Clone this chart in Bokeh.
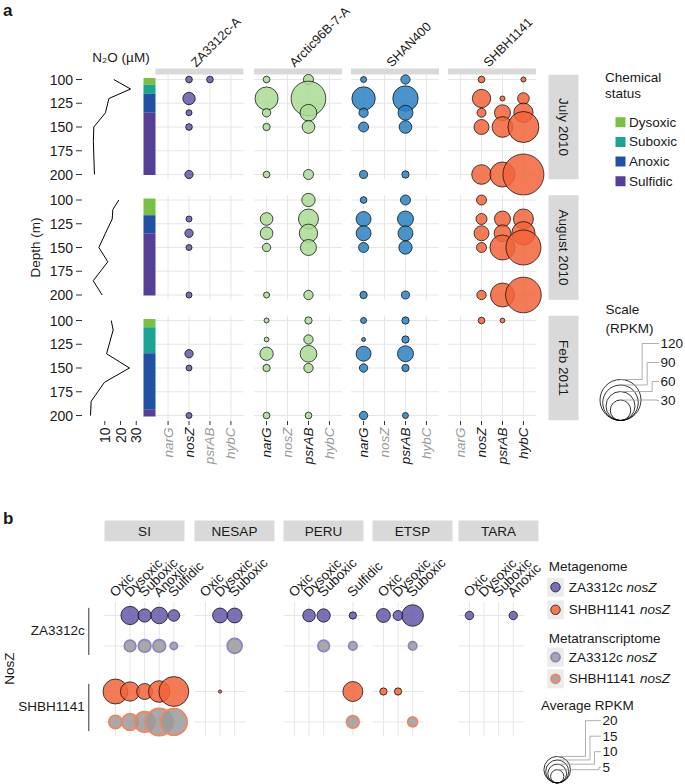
import math
from bokeh.plotting import figure
from bokeh.models import Range1d
from bokeh.core.properties import value
from bokeh.embed import file_html
from bokeh.resources import INLINE

# ======================= DATA =======================
# ---- panel a ----
GENOMES = ["ZA3312c-A", "Arctic96B-7-A", "SHAN400", "SHBH1141"]
GENES = ["narG", "nosZ", "psrAB", "hybC"]
GENES_PRESENT = [["nosZ"], ["narG", "psrAB"], ["narG", "psrAB"], ["nosZ", "psrAB", "hybC"]]
MONTHS = ["July 2010", "August 2010", "Feb 2011"]
DEPTH_TICKS = [100, 125, 150, 175, 200]
N2O_TICKS = [10, 20, 30]

N2O_DEPTH_JUL = [100, 110, 120, 135, 150, 165, 200]
N2O_JUL = [15.7, 26.4, 12.6, 10.4, 3.0, 2.7, 3.4]
N2O_DEPTH_AUG = [100, 110, 120, 135, 150, 165, 185, 200]
N2O_AUG = [18.9, 15.1, 14.7, 10.4, 6.2, 11.9, 2.6, 8.3]
N2O_DEPTH_FEB = [100, 110, 135, 150, 165, 185, 200]
N2O_FEB = [14.1, 15.3, 11.1, 25.7, 9.8, 1.3, 0.9]

STATUS = ["Dysoxic", "Suboxic", "Anoxic", "Sulfidic"]
BAND_MONTH = ["July 2010"] * 4 + ["August 2010"] * 3 + ["Feb 2011"] * 4
BAND_STATUS = ["Dysoxic", "Suboxic", "Anoxic", "Sulfidic",
               "Dysoxic", "Anoxic", "Sulfidic",
               "Dysoxic", "Suboxic", "Anoxic", "Sulfidic"]
BAND_TOP = [98.5, 105.5, 115, 135, 98.5, 116, 135, 98.5, 107, 134.5, 194]
BAND_BOTTOM = [105.5, 115, 135, 200.5, 116, 135, 200.5, 107, 134.5, 194, 201]

A_MONTH = (["July 2010"] * 40 + ["August 2010"] * 36 + ["Feb 2011"] * 25)
A_GENOME = (["ZA3312c-A"] * 6 + ["Arctic96B-7-A"] * 10 + ["SHAN400"] * 10 + ["SHBH1141"] * 14
            + ["ZA3312c-A"] * 4 + ["Arctic96B-7-A"] * 9 + ["SHAN400"] * 10 + ["SHBH1141"] * 13
            + ["ZA3312c-A"] * 3 + ["Arctic96B-7-A"] * 10 + ["SHAN400"] * 10 + ["SHBH1141"] * 2)
A_GENE = (["nosZ", "psrAB", "nosZ", "nosZ", "nosZ", "nosZ"]
          + ["narG"] * 5 + ["psrAB"] * 5
          + ["narG"] * 5 + ["psrAB"] * 5
          + ["nosZ"] * 5 + ["psrAB"] * 4 + ["hybC"] * 5
          + ["nosZ"] * 4
          + ["narG"] * 4 + ["psrAB"] * 5
          + ["narG"] * 5 + ["psrAB"] * 5
          + ["nosZ"] * 5 + ["psrAB"] * 4 + ["hybC"] * 4
          + ["nosZ"] * 3
          + ["narG"] * 5 + ["psrAB"] * 5
          + ["narG"] * 5 + ["psrAB"] * 5
          + ["nosZ", "psrAB"])
A_DEPTH = ([100, 100, 120, 135, 150, 200]
           + [100, 120, 135, 150, 200] * 2
           + [100, 120, 135, 150, 200] * 2
           + [100, 120, 135, 150, 200] + [120, 135, 150, 200] + [100, 120, 135, 150, 200]
           + [120, 135, 150, 200]
           + [120, 135, 150, 200] + [100, 120, 135, 150, 200]
           + [100, 120, 135, 150, 200] * 2
           + [100, 120, 135, 150, 200] + [120, 135, 150, 200] + [120, 135, 150, 200]
           + [135, 150, 200]
           + [100, 120, 135, 150, 200] * 2
           + [100, 120, 135, 150, 200] * 2
           + [100, 100])
A_RPKM = ([3.2, 3.2, 11, 2.6, 3.2, 5]
          + [3.2, 38, 5, 3.8, 3.2, 7.2, 86, 20, 11.5, 7.2]
          + [2.6, 39, 6.2, 7.2, 4.6, 6.2, 46, 16, 11.5, 3.8]
          + [3.2, 24, 5.8, 16, 27.6, 1.8, 18.3, 30.6, 44.7, 1.8, 9.7, 26.7, 68.7, 120]
          + [2.6, 5, 2.6, 2.6]
          + [11.5, 11.5, 5, 2.6, 12.7, 28.6, 24, 18.3, 6.2]
          + [3.2, 16, 16, 7.2, 3.8, 7.2, 18.3, 16, 12.7, 4.6]
          + [7.2, 8.7, 16, 7.2, 6.2, 18.3, 20, 44.7, 41, 28.6, 38.9, 87.6, 91]
          + [5, 2.6, 2.6]
          + [1.8, 1.6, 12.7, 3.8, 3.2, 3.8, 6.2, 20, 6.2, 3.2]
          + [2.6, 1.1, 16, 5, 5, 3.8, 3.8, 18.3, 3.8, 2.6]
          + [3.2, 1.6])
SCALE_A = [30, 60, 90, 120]

# ---- panel b ----
B_SITES = ["SI", "NESAP", "PERU", "ETSP", "TARA"]
B_STATUS = ["Oxic", "Dysoxic", "Suboxic", "Anoxic", "Sulfidic"]
B_SITE_STATUS = [["Oxic", "Dysoxic", "Suboxic", "Anoxic", "Sulfidic"],
                 ["Oxic", "Dysoxic", "Suboxic"],
                 ["Oxic", "Dysoxic", "Suboxic", "Sulfidic"],
                 ["Oxic", "Dysoxic", "Suboxic"],
                 ["Oxic", "Dysoxic", "Suboxic", "Anoxic"]]
B_GENOMES = ["ZA3312c", "SHBH1141"]
B_TYPES = ["Metagenome", "Metatranscriptome"]
B_SITE = (["SI"] * 18 + ["NESAP"] * 4 + ["PERU"] * 7 + ["ETSP"] * 7 + ["TARA"] * 2)
B_GENOME = (["ZA3312c"] * 8 + ["SHBH1141"] * 10
            + ["ZA3312c"] * 3 + ["SHBH1141"]
            + ["ZA3312c"] * 5 + ["SHBH1141"] * 2
            + ["ZA3312c"] * 4 + ["SHBH1141"] * 3
            + ["ZA3312c"] * 2)
B_TYPE = (["Metagenome"] * 4 + ["Metatranscriptome"] * 4 + ["Metagenome"] * 5 + ["Metatranscriptome"] * 5
          + ["Metagenome"] * 2 + ["Metatranscriptome"] + ["Metagenome"]
          + ["Metagenome"] * 3 + ["Metatranscriptome"] * 2 + ["Metagenome", "Metatranscriptome"]
          + ["Metagenome"] * 3 + ["Metatranscriptome"] + ["Metagenome"] * 2 + ["Metatranscriptome"]
          + ["Metagenome"] * 2)
B_STAT = (["Dysoxic", "Suboxic", "Anoxic", "Sulfidic"] * 2
          + ["Oxic", "Dysoxic", "Suboxic", "Anoxic", "Sulfidic"] * 2
          + ["Dysoxic", "Suboxic", "Suboxic", "Dysoxic"]
          + ["Dysoxic", "Suboxic", "Sulfidic", "Suboxic", "Sulfidic", "Sulfidic", "Sulfidic"]
          + ["Oxic", "Dysoxic", "Suboxic", "Suboxic", "Oxic", "Dysoxic", "Suboxic"]
          + ["Oxic", "Anoxic"])
B_RPKM = ([9.5, 5, 7.8, 3.8, 3.8, 4.5, 4.5, 1.5]
          + [17.6, 10.5, 7.2, 13.2, 25.3, 5, 7.8, 12, 21, 20]
          + [6.3, 6.3, 6.3, 0.3]
          + [4.5, 5, 1.5, 3.8, 2, 11.3, 4.5]
          + [5.5, 2.8, 13.2, 2, 1.5, 1.5, 2.8]
          + [2, 2])
SCALE_B = [5, 10, 15, 20]

# ======================= STYLE / LAYOUT =======================
W, H = 685, 784
OX, OY = 0, 0
FONT = "Liberation Sans"
TXT = "#1a1a1a"
STRIP = "#d9d9d9"
GRID = "#e6e6e6"
GENOME_COLORS = ["#6557a9", "#aada95", "#2a81c2", "#f2643b"]
STATUS_COLORS = ["#7ac143", "#1ba394", "#2151a5", "#553f97"]
B_FILL = ["#6557a9", "#f2643b"]
B_EDGE = ["#8c83c2", "#f4845f"]
RMAX_A = 20.5
RMAX_B = 13.3

ROW_TOP = [74.25, 194.75, 315.25]
ROW_H = 104.5
DEPTH_LIM = (95, 205)
FACET_LEFT = [155, 253.5, 350.5, 447.5]
FACET_W = 88
GENE_LIM = (-0.6, 3.6)
N2O_LIM = (-1.5, 31.5)
N2O_PX = (86.25, 138.1)
BAR_X = (143, 155)
RSTRIP_X = (548, 578)

B_STRIP_LEFT = [104, 194, 283, 372, 458]
B_STRIP_W = 80
B_UNIT = 14.6
B_PAD = 0.75
B_Y_LIM = (-0.45, 3.95)
B_Y_PX = (601.3, 735.1)

xr, yr = {}, {}


def xmap(name, d0, d1, p0, p1):
    k = (d1 - d0) / (p1 - p0)
    xr[name] = Range1d(start=d0 + (OX - p0) * k, end=d0 + (OX + W - p0) * k)


def ymap(name, d0, d1, p0, p1):
    k = (d1 - d0) / (p1 - p0)
    yr[name] = Range1d(start=d0 + (OY + H - p0) * k, end=d0 + (OY - p0) * k)


xmap("n2o", N2O_LIM[0], N2O_LIM[1], *N2O_PX)
for f in range(len(GENOMES)):
    xmap(f"ga{f}", GENE_LIM[0], GENE_LIM[1], FACET_LEFT[f], FACET_LEFT[f] + FACET_W)
for r in range(len(MONTHS)):
    ymap(f"ra{r}", DEPTH_LIM[0], DEPTH_LIM[1], ROW_TOP[r], ROW_TOP[r] + ROW_H)

site_idx = []
for i, site in enumerate(B_SITES):
    ids = [B_STATUS.index(s) for s in B_SITE_STATUS[i]]
    site_idx.append(ids)
    mx = max(ids)
    xmap(f"sb{i}", -B_PAD, mx + B_PAD, B_STRIP_LEFT[i], B_STRIP_LEFT[i] + (mx + 2 * B_PAD) * B_UNIT)
ymap("by", B_Y_LIM[0], B_Y_LIM[1], *B_Y_PX)

p = figure(width=W, height=H, output_backend="svg", toolbar_location=None,
           x_range=Range1d(OX, OX + W), y_range=Range1d(OY + H, OY),
           x_axis_type=None, y_axis_type=None, min_border=0,
           extra_x_ranges=xr, extra_y_ranges=yr)
p.outline_line_color = None
p.background_fill_color = "white"
p.border_fill_color = "white"


def txt(x, y, t, size="13px", **kw):
    kw.setdefault("text_color", TXT)
    kw.setdefault("text_align", "left")
    kw.setdefault("text_baseline", "middle")
    return p.text(x=x, y=y, text=t, text_font=value(FONT), text_font_size=size, **kw)


AW = {'Z': .611, 'A': .667, '3': .556, '1': .556, '2': .556, 'c': .5, 'S': .667, 'H': .722,
      'B': .667, '4': .556, ' ': .278}


def twidth(s, px):
    return sum(AW.get(ch, .556) for ch in s) * px


# ======================= PANEL A =======================
txt([2.5], [10], ["a"], size="17px", text_font_style="bold")
txt([120.5], [57], ["N\u2082O (\u00b5M)"], size="13.5px", text_align="center")
txt([35], [247], ["Depth (m)"], size="13.5px", angle=math.pi / 2, text_align="center")

# genome headers and top strips
p.quad(left=FACET_LEFT, right=[l + FACET_W for l in FACET_LEFT], top=[68] * 4, bottom=[74] * 4,
       fill_color=STRIP, line_color=None)
txt([l + FACET_W / 2 - 6.5 for l in FACET_LEFT], [64] * 4, GENOMES, size="12.8px",
    angle=math.pi / 4, text_baseline="alphabetic")

n2o_data = [(N2O_DEPTH_JUL, N2O_JUL), (N2O_DEPTH_AUG, N2O_AUG), (N2O_DEPTH_FEB, N2O_FEB)]

for r, month in enumerate(MONTHS):
    yn = f"ra{r}"
    # grid in facets
    for f in range(len(GENOMES)):
        xn = f"ga{f}"
        p.segment(x0=[GENE_LIM[0]] * len(DEPTH_TICKS), x1=[GENE_LIM[1]] * len(DEPTH_TICKS),
                  y0=DEPTH_TICKS, y1=DEPTH_TICKS, x_range_name=xn, y_range_name=yn,
                  line_color=GRID, line_width=1)
        gi = list(range(len(GENES)))
        p.segment(x0=gi, x1=gi, y0=[DEPTH_LIM[0]] * len(gi), y1=[DEPTH_LIM[1]] * len(gi),
                  x_range_name=xn, y_range_name=yn, line_color=GRID, line_width=1)
    # chemical status bar
    bi = [i for i, m in enumerate(BAND_MONTH) if m == month]
    p.quad(left=[BAR_X[0]] * len(bi), right=[BAR_X[1]] * len(bi),
           top=[BAND_TOP[i] for i in bi], bottom=[BAND_BOTTOM[i] for i in bi],
           fill_color=[STATUS_COLORS[STATUS.index(BAND_STATUS[i])] for i in bi],
           line_color=None, y_range_name=yn)
    # N2O profile
    dd, nn = n2o_data[r]
    p.line(x=nn, y=dd, x_range_name="n2o", y_range_name=yn, line_color="black", line_width=1)
    # depth axis
    p.segment(x0=[75.5] * 5, x1=[81.5] * 5, y0=DEPTH_TICKS, y1=DEPTH_TICKS, y_range_name=yn,
              line_color="#333333", line_width=1)
    txt([72.5] * 5, DEPTH_TICKS, [str(d) for d in DEPTH_TICKS], size="14px",
        text_align="right", y_range_name=yn)
    # right strip
    p.quad(left=[RSTRIP_X[0]], right=[RSTRIP_X[1]], top=[DEPTH_LIM[0]], bottom=[DEPTH_LIM[1]],
           fill_color=STRIP, line_color=None, y_range_name=yn)
    txt([sum(RSTRIP_X) / 2], [sum(DEPTH_LIM) / 2], [month], size="13.5px", angle=-math.pi / 2,
        text_align="center", y_range_name=yn)
    # bubbles
    for f, g in enumerate(GENOMES):
        ids = [i for i in range(len(A_RPKM)) if A_MONTH[i] == month and A_GENOME[i] == g]
        if not ids:
            continue
        p.scatter(x=[GENES.index(A_GENE[i]) for i in ids], y=[A_DEPTH[i] for i in ids],
                  size=[2 * RMAX_A * math.sqrt(A_RPKM[i] / SCALE_A[-1]) for i in ids],
                  marker="circle", fill_color=GENOME_COLORS[f], fill_alpha=0.85,
                  line_color="black", line_width=0.7, x_range_name=f"ga{f}", y_range_name=yn)

# bottom axes
AX_Y0, AX_Y1, LAB_Y = 420.5, 424.5, 427
p.segment(x0=N2O_TICKS, x1=N2O_TICKS, y0=[AX_Y0] * 3, y1=[AX_Y1] * 3, x_range_name="n2o",
          line_color="#333333", line_width=1)
txt(N2O_TICKS, [LAB_Y] * 3, [str(t) for t in N2O_TICKS], size="14px", angle=math.pi / 2,
    text_align="right", x_range_name="n2o")
for f, g in enumerate(GENOMES):
    gi = list(range(len(GENES)))
    p.segment(x0=gi, x1=gi, y0=[AX_Y0] * 4, y1=[AX_Y1] * 4, x_range_name=f"ga{f}",
              line_color="#333333", line_width=1)
    cols = [TXT if GENES[k] in GENES_PRESENT[f] else "#9a9a9a" for k in gi]
    txt(gi, [LAB_Y] * 4, GENES, size="13.5px", angle=math.pi / 2, text_align="right",
        text_font_style="italic", text_color=cols, x_range_name=f"ga{f}")

# legend a: chemical status
txt([604.5, 604.5], [77, 93], ["Chemical", "status"], size="13.5px")
ky = [121.7 + 19.7 * i for i in range(len(STATUS))]
p.quad(left=[615] * 4, right=[625] * 4, top=[y - 5 for y in ky], bottom=[y + 5 for y in ky],
       fill_color=STATUS_COLORS, line_color=None)
txt([628.5] * 4, ky, STATUS, size="13.5px")

# legend a: size scale
txt([605, 605], [309, 327.5], ["Scale", "(RPKM)"], size="13.5px")
CXA, BOTA = 620, 420
ra_ = [RMAX_A * math.sqrt(v / SCALE_A[-1]) for v in SCALE_A]
p.scatter(x=[CXA] * 4, y=[BOTA - r_ for r_ in ra_], size=[2 * r_ for r_ in ra_], marker="circle",
          fill_color=None, line_color="black", line_width=0.8)
lab_ya = [BOTA - 20 - 19 * i for i in range(4)]
xs, ys = [], []
for i, r_ in enumerate(ra_):
    ex = 656.7 - 5 * i
    top = BOTA - 2 * r_
    xs.append([CXA, ex, ex, 658.5])
    ys.append([top, top, lab_ya[i], lab_ya[i]])
p.multi_line(xs=xs, ys=ys, line_color="#9a9a9a", line_width=0.8)
txt([660] * 4, lab_ya, [str(v) for v in SCALE_A], size="13.5px")

# ======================= PANEL B =======================
txt([2.5], [518], ["b"], size="17px", text_font_style="bold")
p.quad(left=B_STRIP_LEFT, right=[l + B_STRIP_W for l in B_STRIP_LEFT], top=[520] * 5,
       bottom=[540.7] * 5, fill_color=STRIP, line_color=None)
txt([l + B_STRIP_W / 2 for l in B_STRIP_LEFT], [530.6] * 5, B_SITES, size="13.5px",
    text_align="center")


def rowpos(genome, typ):
    return B_GENOMES.index(genome) * 2.5 + B_TYPES.index(typ)


rows_all = [rowpos(g, t) for g in B_GENOMES for t in B_TYPES]
for i, site in enumerate(B_SITES):
    xn = f"sb{i}"
    ids = site_idx[i]
    mx = max(ids)
    p.segment(x0=ids, x1=ids, y0=[B_Y_LIM[0]] * len(ids), y1=[B_Y_LIM[1]] * len(ids),
              x_range_name=xn, y_range_name="by", line_color=GRID, line_width=1)
    p.segment(x0=[-B_PAD] * 4, x1=[mx + B_PAD] * 4, y0=rows_all, y1=rows_all,
              x_range_name=xn, y_range_name="by", line_color=GRID, line_width=1)
    txt(ids, [594] * len(ids), B_SITE_STATUS[i], size="13.5px", angle=math.pi / 4,
        text_baseline="alphabetic", x_offset=-3.3, x_range_name=xn)
    for typ in B_TYPES:
        sel = [k for k in range(len(B_RPKM)) if B_SITE[k] == site and B_TYPE[k] == typ]
        if not sel:
            continue
        gidx = [B_GENOMES.index(B_GENOME[k]) for k in sel]
        kw = dict(x=[B_STATUS.index(B_STAT[k]) for k in sel],
                  y=[rowpos(B_GENOME[k], typ) for k in sel],
                  size=[2 * RMAX_B * math.sqrt(B_RPKM[k] / SCALE_B[-1]) for k in sel],
                  marker="circle", x_range_name=xn, y_range_name="by")
        if typ == "Metagenome":
            p.scatter(fill_color=[B_FILL[g] for g in gidx], fill_alpha=0.85, line_color="black",
                      line_width=0.7, **kw)
        else:
            p.scatter(fill_color="#9a9a9a", fill_alpha=0.85,
                      line_color=[B_EDGE[g] for g in gidx], line_width=1.7, **kw)

# row labels and brackets
txt([84.3, 84.3], [0.5, 3.0], B_GENOMES, size="13.5px", text_align="right", y_range_name="by")
p.segment(x0=[88.3, 88.3], x1=[88.3, 88.3], y0=[-0.25, 2.25], y1=[1.3, 3.8], y_range_name="by",
          line_color="#333333", line_width=1)
txt([9], [1.75], ["NosZ"], size="13.5px", angle=math.pi / 2, text_align="center",
    y_range_name="by")

# legend b
LBX = 546.7
txt([548.3], [566], ["Metagenome"], size="13.5px")
txt([548.3], [638.3], ["Metatranscriptome"], size="13.5px")
key_y = [586.7, 609.3, 656.7, 678.3]
p.quad(left=[LBX] * 4, right=[LBX + 16.6] * 4, top=[y - 9.5 for y in key_y],
       bottom=[y + 9.5 for y in key_y], fill_color="#ebebeb", line_color=None)
p.scatter(x=[LBX + 8.3] * 2, y=key_y[:2], size=[9.5, 9.5], marker="circle", fill_color=B_FILL,
          fill_alpha=0.85, line_color="black", line_width=0.7)
p.scatter(x=[LBX + 8.3] * 2, y=key_y[2:], size=[9, 9], marker="circle", fill_color="#9a9a9a",
          fill_alpha=0.85, line_color=B_EDGE, line_width=1.7)
for j, yk in enumerate(key_y):
    g = B_GENOMES[j % 2]
    txt([568.3], [yk], [g + " "], size="13.5px")
    txt([568.3 + twidth(g + " ", 13.5)], [yk], ["nosZ"], size="13.5px", text_font_style="italic")

txt([540.5], [705], ["Average RPKM"], size="13.5px")
CXB, BOTB = 556.7, 782.5
rb_ = [RMAX_B * math.sqrt(v / SCALE_B[-1]) for v in SCALE_B]
p.scatter(x=[CXB] * 4, y=[BOTB - r_ for r_ in rb_], size=[2 * r_ for r_ in rb_], marker="circle",
          fill_color=None, line_color="black", line_width=0.8)
lab_yb = [766.7 - 15.5 * i for i in range(4)]
xs, ys = [], []
for i, r_ in enumerate(rb_):
    ex = 598.5 - 4.5 * i
    top = BOTB - 2 * r_
    xs.append([CXB, ex, ex, 600.5])
    ys.append([top, top, lab_yb[i], lab_yb[i]])
p.multi_line(xs=xs, ys=ys, line_color="#9a9a9a", line_width=0.8)
txt([602] * 4, lab_yb, [str(v) for v in SCALE_B], size="13.5px")

open("out.html", "w").write(file_html(p, INLINE))
